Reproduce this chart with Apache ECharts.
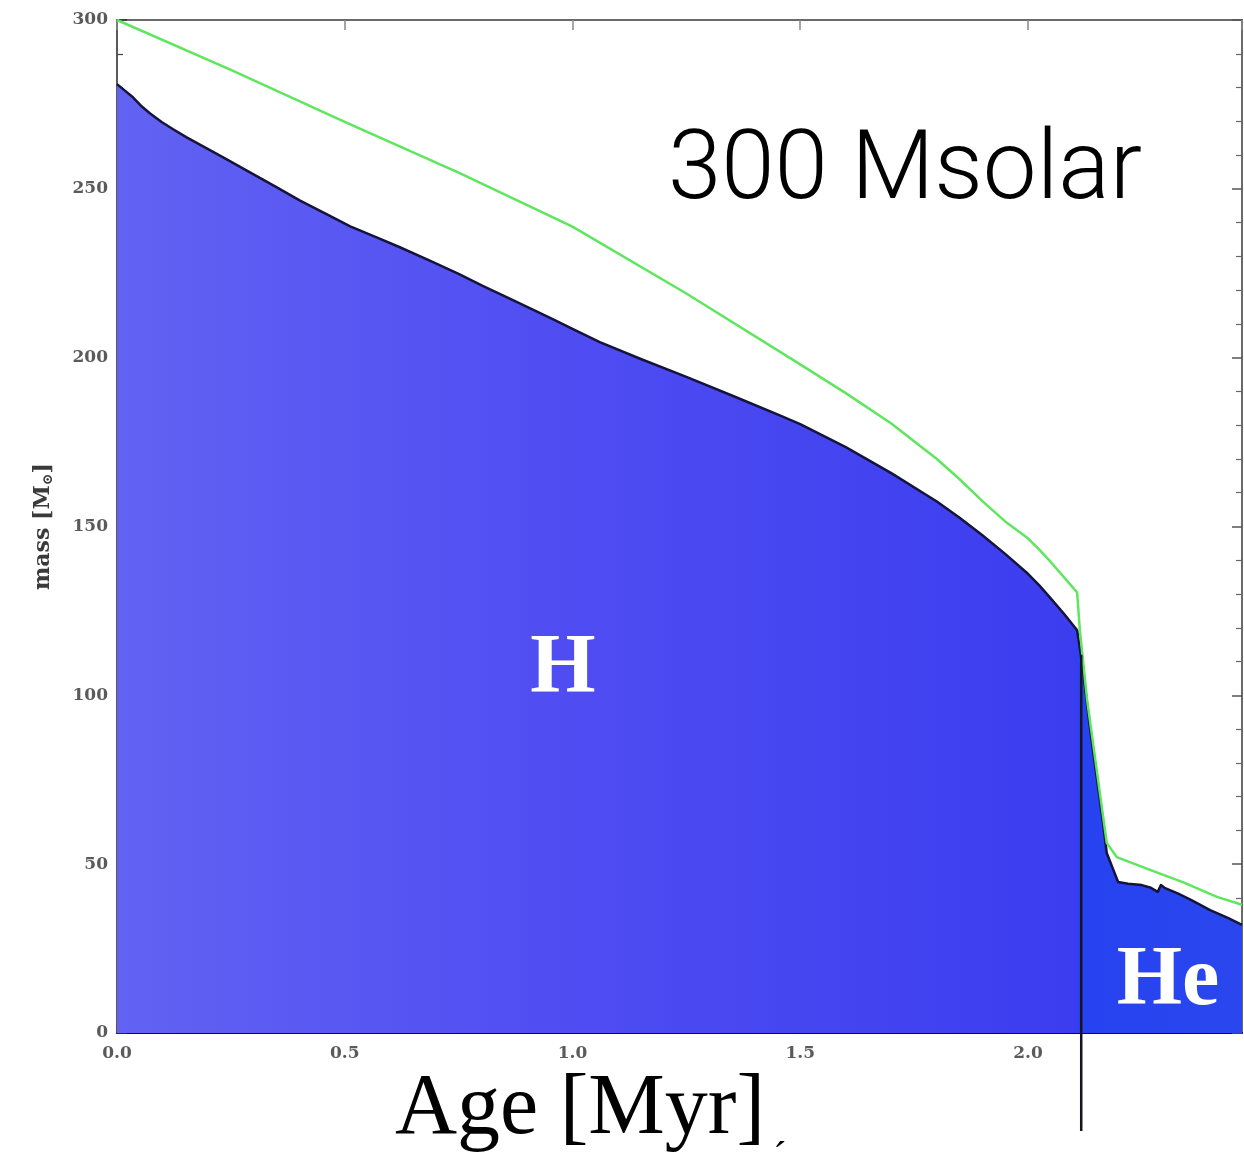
<!DOCTYPE html>
<html><head><meta charset="utf-8">
<script src="https://cdn.jsdelivr.net/npm/echarts@6/dist/echarts.min.js"></script>
<style>html,body{margin:0;padding:0;background:#fff}#c{width:1244px;height:1152px}</style>
</head><body><div id="c"></div>
<script>
// Hydrogen-envelope / core boundary (black line, blue fill below), Myr vs Msun
const hTime = [0, 0.018, 0.035, 0.052, 0.072, 0.098, 0.125, 0.152, 0.182, 0.24, 0.292, 0.35, 0.402, 0.46, 0.512, 0.57, 0.621, 0.694, 0.75, 0.804, 0.86, 0.913, 0.96, 1.0, 1.06, 1.15, 1.25, 1.35, 1.45, 1.5, 1.6, 1.7, 1.8, 1.85, 1.9, 1.95, 2.0, 2.026, 2.05, 2.08, 2.108, 2.121, 2.136, 2.151, 2.165, 2.173, 2.198, 2.22, 2.25, 2.27, 2.285, 2.292, 2.30, 2.33, 2.36, 2.40, 2.44, 2.47];
const hMass = [281, 279, 277.1, 274.7, 272.4, 269.8, 267.5, 265.3, 263.1, 258.8, 254.9, 250.5, 246.5, 242.5, 238.9, 235.6, 232.7, 228.3, 224.8, 221.2, 217.6, 214.2, 211.2, 208.5, 204.6, 199.6, 194.3, 188.8, 183.2, 180.3, 173.5, 165.8, 157.4, 152.6, 147.4, 141.9, 136, 132.4, 128.7, 124, 119.3, 107.5, 90.6, 75.8, 62.2, 53.3, 44.7, 44.2, 43.8, 43, 41.8, 43.8, 43, 41.3, 39.3, 36.4, 34, 32];
// Total stellar mass (green line)
const gTime = [0, 0.25, 0.5, 0.75, 1.0, 1.25, 1.5, 1.6, 1.7, 1.8, 1.85, 1.9, 1.95, 2.0, 2.026, 2.05, 2.108, 2.114, 2.13, 2.173, 2.195, 2.268, 2.34, 2.415, 2.47];
const gMass = [300, 285.2, 269.8, 254.8, 238.8, 219, 198, 189.5, 180.5, 170, 164, 157.5, 151.5, 146.5, 143, 139.5, 130.5, 119.3, 98.6, 56.3, 52.1, 48.3, 44.7, 40.3, 38];
// Vertical marker line (end of H burning)
const cutTime = [2.117, 2.117];
const cutMass = [112, -29];
// Axis settings
const xMin = 0, xMax = 2.47, xStep = 0.5;
const yMin = 0, yMax = 300, yStep = 50;

const zip = (a, b) => a.map((v, i) => [v, b[i]]);
const chart = echarts.init(document.getElementById('c'));
const lblFont = 'DejaVu Serif';
chart.setOption({
  animation: false,
  backgroundColor: '#fff',
  grid: { left: 117, right: 2, top: 20, bottom: 119 },
  xAxis: [{
    type: 'value', min: xMin, max: xMax, interval: xStep, position: 'bottom',
    splitLine: { show: false },
    axisLine: { onZero: false, lineStyle: { color: '#111', width: 2 } },
    axisTick: { inside: true, length: 10, lineStyle: { color: '#555', width: 1.5 } },
    axisLabel: { showMaxLabel: false, margin: 12, color: '#5a5a5a', fontFamily: lblFont, fontWeight: 'bold', fontSize: 17,
      formatter: v => v.toFixed(1) }
  }, {
    type: 'value', min: xMin, max: xMax, interval: xStep, position: 'top',
    splitLine: { show: false },
    axisLine: { onZero: false, lineStyle: { color: '#6a6a6a', width: 2 } },
    axisTick: { inside: true, length: 10, lineStyle: { color: '#888', width: 1.5 } },
    axisLabel: { show: false }
  }],
  yAxis: [{
    type: 'value', min: yMin, max: yMax, interval: yStep, position: 'left',
    splitLine: { show: false },
    axisLine: { onZero: false, lineStyle: { color: '#5a5a5a', width: 2 } },
    axisTick: { inside: true, length: 10, lineStyle: { color: '#333', width: 1.5 } },
    minorTick: { show: true, splitNumber: 5, length: 6, lineStyle: { color: '#444', width: 1.2 } },
    axisLabel: { margin: 9, color: '#5a5a5a', fontFamily: lblFont, fontWeight: 'bold', fontSize: 17 },
    name: '{a|mass [M}{s|⊙}{a|]}',
    nameLocation: 'middle', nameGap: 62, nameRotate: 90,
    nameTextStyle: {
      rich: {
        a: { fontFamily: lblFont, fontWeight: 'bold', fontSize: 22, color: '#3a3a3a' },
        s: { fontFamily: lblFont, fontWeight: 'bold', fontSize: 14, color: '#3a3a3a', padding: [10, 0, 0, 0] }
      }
    }
  }, {
    type: 'value', min: yMin, max: yMax, interval: yStep, position: 'right',
    splitLine: { show: false },
    axisLine: { onZero: false, lineStyle: { color: '#6a6a6a', width: 2 } },
    axisTick: { inside: true, length: 10, lineStyle: { color: '#555', width: 1.5 } },
    minorTick: { show: true, splitNumber: 5, length: 6, lineStyle: { color: '#666', width: 1.2 } },
    axisLabel: { show: false }
  }],
  series: [{
    type: 'line', data: zip(hTime, hMass), showSymbol: false, z: 2,
    lineStyle: { color: '#14143c', width: 2.5, join: 'round' },
    areaStyle: {
      opacity: 1,
      color: { type: 'linear', x: 0, y: 0, x2: 1, y2: 0, colorStops: [
        { offset: 0, color: '#6262f3' },
        { offset: 0.4, color: '#4f4df2' },
        { offset: 0.85, color: '#3b3def' },
        { offset: 0.86, color: '#2743f1' },
        { offset: 1, color: '#2a46ee' }
      ] }
    }
  }, {
    type: 'line', data: zip(gTime, gMass), showSymbol: false, z: 3,
    lineStyle: { color: '#5fe65f', width: 2.5, join: 'round' }
  }, {
    type: 'line', data: zip(cutTime, cutMass), showSymbol: false, z: 4, clip: false,
    lineStyle: { color: '#151520', width: 2.5 }
  }],
  graphic: [
    { type: 'text', left: 668, top: 126, z: 10,
      style: { text: '300 Msolar', fill: '#000', font: '300 96px Roboto' } },
    { type: 'text', x: 563, y: 670, z: 10,
      style: { text: 'H', fill: '#fff', font: 'bold 84px "Liberation Serif"', align: 'center', verticalAlign: 'middle' } },
    { type: 'text', x: 1168, y: 982, z: 10,
      style: { text: 'He', fill: '#fff', font: 'bold 84px "Liberation Serif"', align: 'center', verticalAlign: 'middle' } },
    { type: 'text', x: 580, y: 1110, z: 10,
      style: { text: 'Age [Myr]', fill: '#000', font: '86px "Liberation Serif"', align: 'center', verticalAlign: 'middle' } },
    { type: 'text', x: 780, y: 1158, z: 10,
      style: { text: '´', fill: '#000', font: '40px "Liberation Serif"', align: 'center', verticalAlign: 'middle' } }
  ]
});
</script></body></html>
